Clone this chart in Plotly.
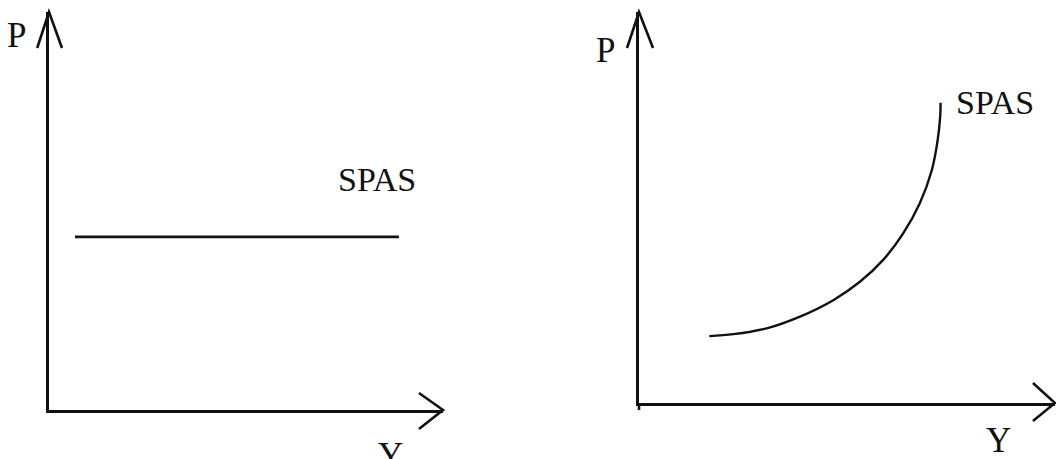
import plotly.graph_objects as go
from plotly.subplots import make_subplots

W, H = 1056, 459

# left panel: flat SPAS (Y from / to, constant P)
flat_y = [0.66, 8.88]
flat_p = [4.35, 4.35]

# right panel: rising SPAS curve
curve_y = [1.69, 2.27, 3.07, 3.87, 4.67, 5.31, 5.87, 6.35, 6.75, 7.04, 7.18, 7.24, 7.25]
curve_p = [1.71, 1.76, 1.91, 2.21, 2.63, 3.10, 3.66, 4.34, 5.11, 5.96, 6.73, 7.32, 7.68]

axis_label_p = "P"
axis_label_y = "Y"
curve_label = "SPAS"


def px_x(v):
    return v / W


def px_y(v):
    return 1 - v / H


fig = make_subplots(rows=1, cols=2)

fig.add_trace(go.Scatter(x=flat_y, y=flat_p, mode="lines",
                         line=dict(color="#111", width=2.6)), row=1, col=1)
fig.add_trace(go.Scatter(x=curve_y, y=curve_p, mode="lines",
                         line=dict(color="#111", width=2.4, shape="spline", smoothing=1.0)),
              row=1, col=2)

axis_style = dict(range=[0, 10], showline=True, linecolor="#111", linewidth=2.6,
                  showgrid=False, zeroline=False, showticklabels=False, ticks="",
                  fixedrange=True)

fig.update_layout(
    xaxis=dict(domain=[px_x(49), px_x(443)], **axis_style),
    yaxis=dict(domain=[px_y(410), px_y(12)], **axis_style),
    xaxis2=dict(domain=[px_x(639), px_x(1055)], **axis_style),
    yaxis2=dict(domain=[px_y(403), px_y(12)], **axis_style),
)

# open V arrowheads on the axes (domain refs, so not clipped)
arrow = dict(type="path", line=dict(color="#111", width=2.6))
heads = [
    # left panel
    ("x domain", "y domain", "M -0.030,0.9095 L 0,1 L 0.033,0.9095"),
    ("x domain", "y domain", "M 0.939,0.0427 L 1,0 L 0.939,-0.0477"),
    # right panel
    ("x2 domain", "y2 domain", "M -0.0288,0.908 L 0,1 L 0.0337,0.908"),
    ("x2 domain", "y2 domain", "M 0.947,0.051 L 1,0 L 0.947,-0.046"),
    ("x2 domain", "y2 domain", "M 0,0 L 0,-0.018"),
]
for xr, yr, p in heads:
    fig.add_shape(xref=xr, yref=yr, path=p, **arrow)

font = dict(family="Liberation Serif, Times New Roman, serif", color="#111")
labels = [
    (axis_label_p, 16, 36, 35),
    (curve_label, 377, 180, 34),
    (axis_label_y, 390, 455, 35),
    (axis_label_p, 605, 50, 35),
    (curve_label, 995, 102, 34),
    (axis_label_y, 998, 440, 35),
]
for txt, x, y, size in labels:
    fig.add_annotation(text=txt, x=px_x(x), y=px_y(y), xref="paper", yref="paper",
                       showarrow=False, xanchor="center", yanchor="middle",
                       font=dict(size=size, **font))

fig.update_layout(width=W, height=H, margin=dict(l=0, r=0, t=0, b=0),
                  paper_bgcolor="white", plot_bgcolor="white", showlegend=False)

fig.write_html("out.html", config={"displayModeBar": False},
               post_script="document.body.style.margin='0';")
